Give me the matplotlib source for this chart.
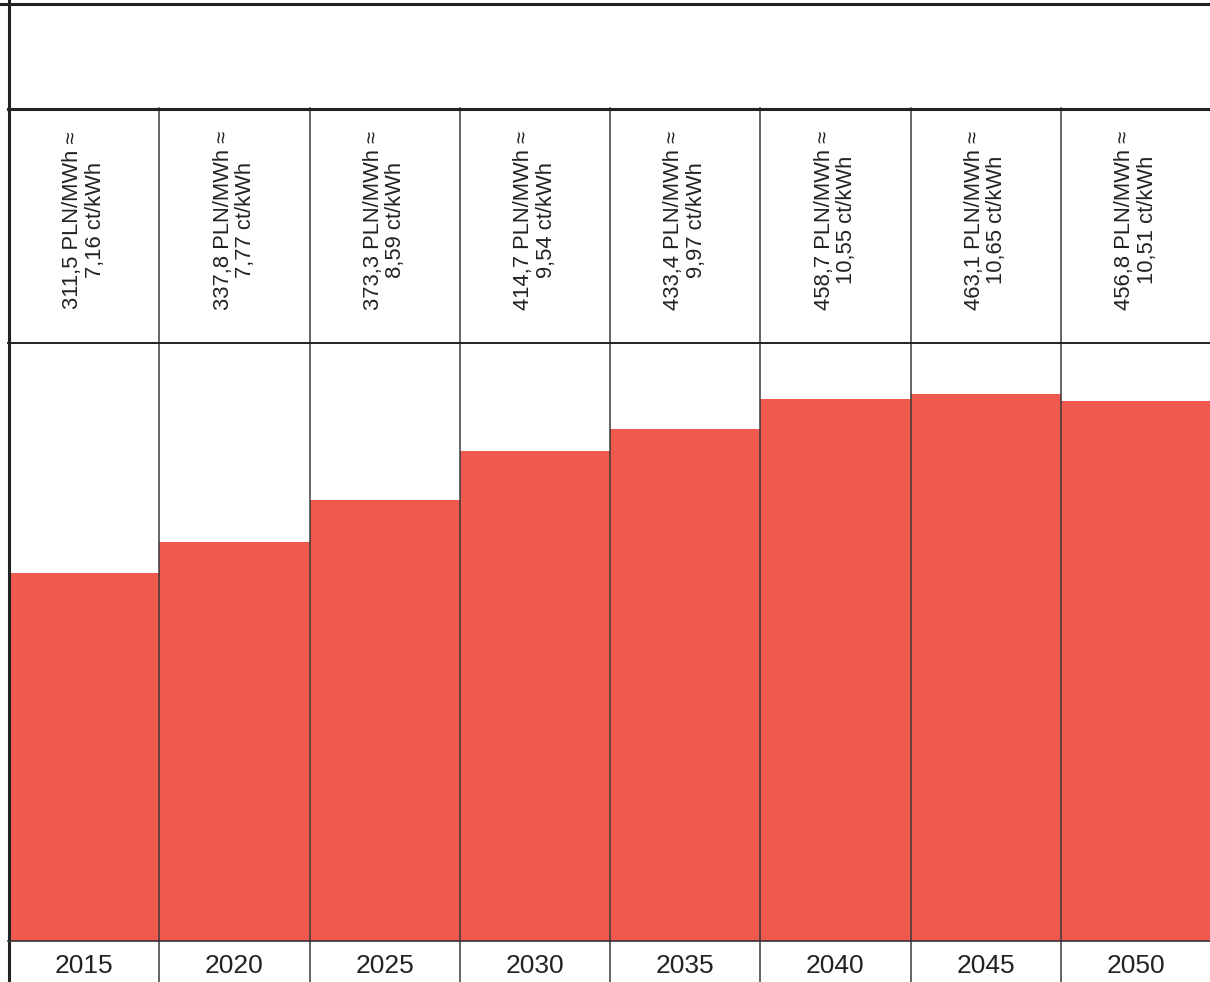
import matplotlib.pyplot as plt
import matplotlib.transforms as mtransforms
from matplotlib.lines import Line2D

years = ["2015", "2020", "2025", "2030", "2035", "2040", "2045", "2050"]
pln_mwh = [311.5, 337.8, 373.3, 414.7, 433.4, 458.7, 463.1, 456.8]
ct_kwh = [7.16, 7.77, 8.59, 9.54, 9.97, 10.55, 10.65, 10.51]

W, H = 1210, 982
BAR = "#F0594E"
INK = "#222222"


def fy(px):
    # pixel row from the top -> figure fraction
    return 1 - px / H


def dec(v, nd):
    return f"{v:.{nd}f}".replace(".", ",")


fig = plt.figure(figsize=(W / 100, H / 100), dpi=100)
ax = fig.add_axes([9 / W, fy(941), 1202 / W, (941 - 343) / H])
ax.bar(range(len(years)), pln_mwh, width=1, align="edge", color=BAR, zorder=1)
ax.set_xlim(0, len(years))
ax.set_ylim(0, 506)
ax.axis("off")

blend = mtransforms.blended_transform_factory(ax.transData, fig.transFigure)

# table grid
for i in range(1, len(years)):
    fig.add_artist(Line2D([i, i], [fy(108), 0], transform=blend,
                          color="#3a3a3a", lw=1.1, zorder=5))
fig.add_artist(Line2D([0, 1], [fy(3.5), fy(3.5)], transform=fig.transFigure,
                      color=INK, lw=2.2, zorder=6))
fig.add_artist(Line2D([8.5 / W, 8.5 / W], [1, 0], transform=fig.transFigure,
                      color=INK, lw=2.2, zorder=6))
fig.add_artist(Line2D([8 / W, 1], [fy(108.5), fy(108.5)], transform=fig.transFigure,
                      color=INK, lw=2.2, zorder=6))
fig.add_artist(Line2D([8 / W, 1], [fy(343.5), fy(343.5)], transform=fig.transFigure,
                      color=INK, lw=1.4, zorder=6))
fig.add_artist(Line2D([8 / W, 1], [fy(941), fy(941)], transform=fig.transFigure,
                      color="#333333", lw=1.2, zorder=6))

font = ["Liberation Sans", "DejaVu Sans"]
for i, (p, c) in enumerate(zip(pln_mwh, ct_kwh)):
    ax.text(i + 0.5, fy(220), f"{dec(p, 1)} PLN/MWh ≈\n{dec(c, 2)} ct/kWh",
            transform=blend, rotation=90, ha="center", va="center",
            multialignment="center", fontsize=15.8, linespacing=1.1,
            color=INK, family=font)
    ax.text(i + 0.5, fy(966), years[i], transform=blend, ha="center",
            va="center", fontsize=19, color=INK, family=font)

fig.savefig("out.png", dpi=100)
